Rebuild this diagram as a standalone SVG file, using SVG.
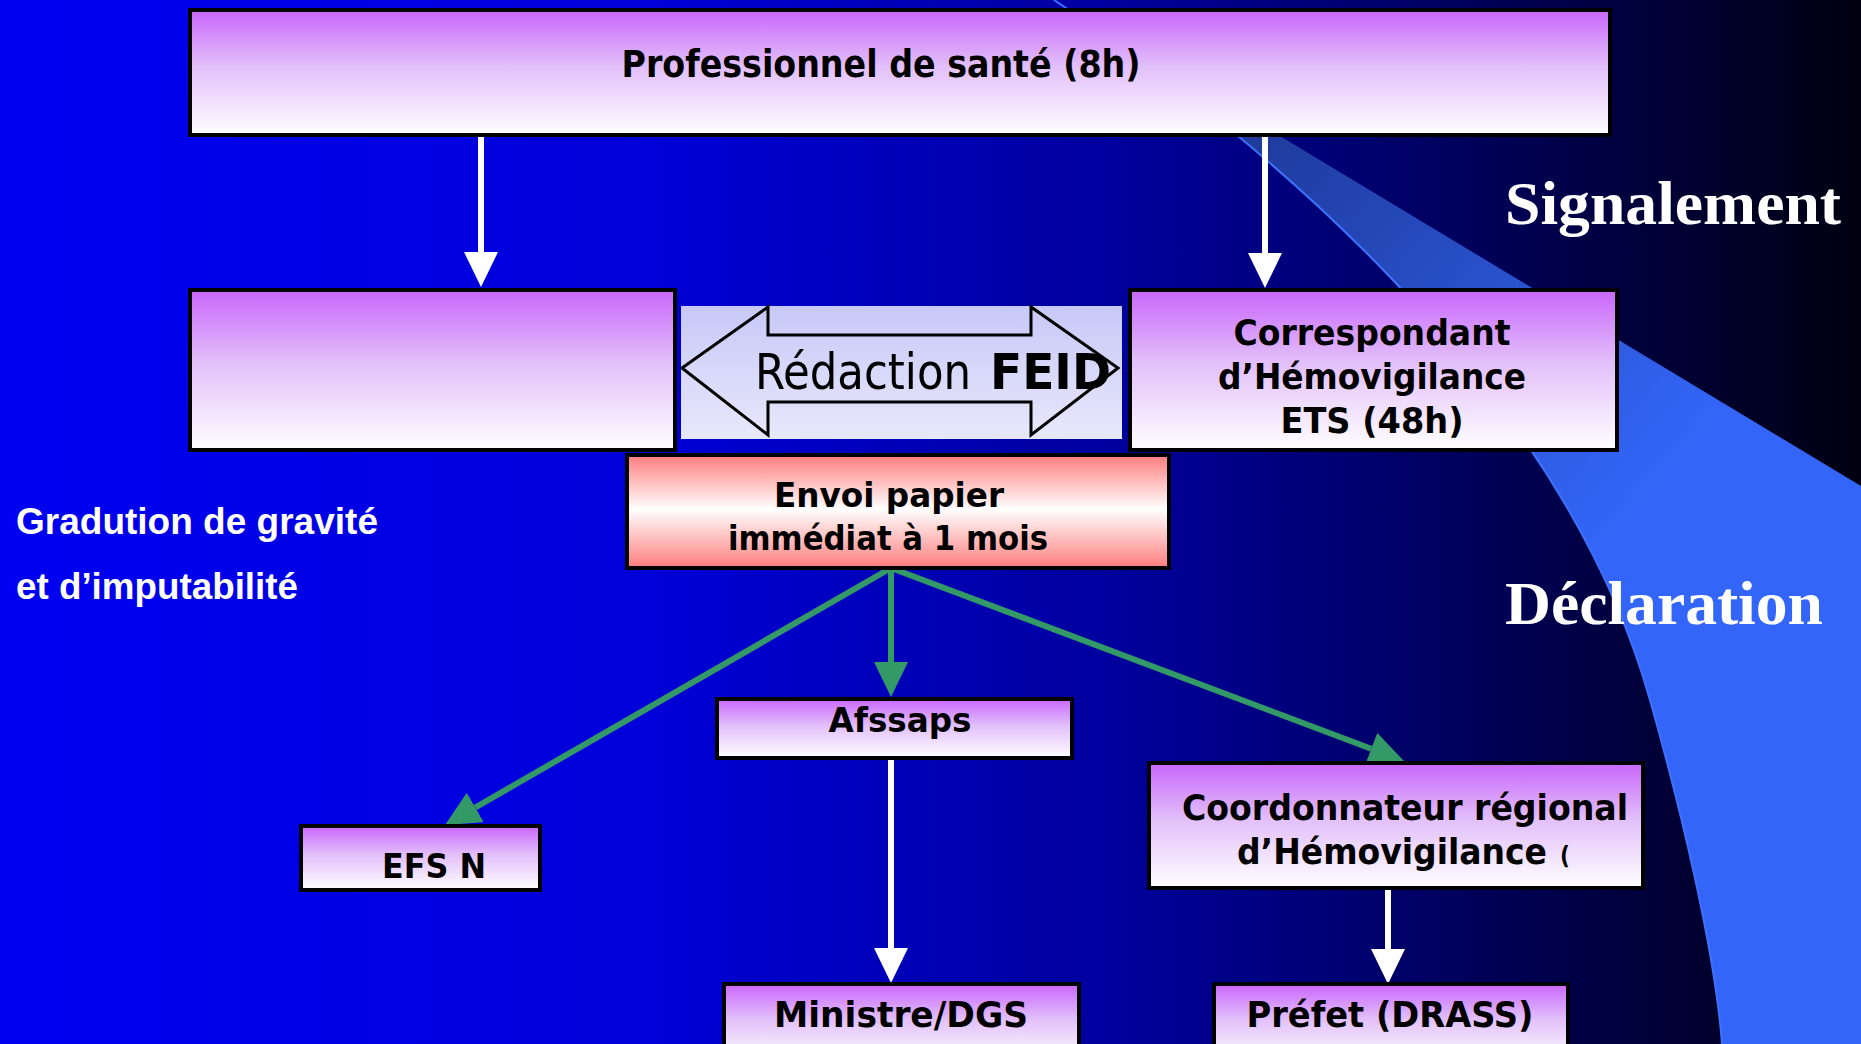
<svg xmlns="http://www.w3.org/2000/svg" width="1861" height="1044" viewBox="0 0 1861 1044">
<defs>
<linearGradient id="bg" x1="0" y1="0" x2="1" y2="0">
<stop offset="0" stop-color="#0000f2"/>
<stop offset="0.35" stop-color="#0000d8"/>
<stop offset="0.6" stop-color="#00009c"/>
<stop offset="0.8" stop-color="#000058"/>
<stop offset="1" stop-color="#000010"/>
</linearGradient>
<linearGradient id="swoosh" gradientUnits="userSpaceOnUse" x1="1200" y1="100" x2="1650" y2="500">
<stop offset="0" stop-color="#1c3692"/>
<stop offset="1" stop-color="#3366f8"/>
</linearGradient>
<linearGradient id="purple" x1="0" y1="0" x2="0" y2="1">
<stop offset="0" stop-color="#c966fb"/>
<stop offset="0.45" stop-color="#e2bffa"/>
<stop offset="1" stop-color="#ffffff"/>
</linearGradient>
<linearGradient id="pink" x1="0" y1="0" x2="0" y2="1">
<stop offset="0" stop-color="#ff7c7c"/>
<stop offset="0.48" stop-color="#ffffff"/>
<stop offset="1" stop-color="#ff7c7c"/>
</linearGradient>
<linearGradient id="lav" x1="0" y1="0" x2="0" y2="1">
<stop offset="0" stop-color="#c8c8f8"/>
<stop offset="1" stop-color="#e8e8fc"/>
</linearGradient>
<marker id="wh" viewBox="0 0 35 34" markerWidth="35" markerHeight="34" refX="0" refY="17" orient="auto" markerUnits="userSpaceOnUse">
<path d="M0,0 L35,17 L0,34 z" fill="#ffffff"/>
</marker>
<marker id="gr" viewBox="0 0 35 34" markerWidth="35" markerHeight="34" refX="0" refY="17" orient="auto" markerUnits="userSpaceOnUse">
<path d="M0,0 L35,17 L0,34 z" fill="#339966"/>
</marker>
<style>
.box{stroke:#000;stroke-width:4}
.pb{fill:url(#purple)}
.t{font-family:"DejaVu Sans Condensed","DejaVu Sans",sans-serif;font-weight:bold;fill:#000;text-anchor:middle}
.tv{font-family:"DejaVu Sans","Verdana",sans-serif;font-weight:bold;fill:#000;text-anchor:middle}
.side{font-family:"Liberation Serif","Times New Roman",serif;font-weight:bold;fill:#fff;font-size:62px}
.grad{font-family:"Liberation Sans",Arial,sans-serif;font-weight:bold;fill:#fff;font-size:36px}
.wa{stroke:#fff;stroke-width:6;fill:none;marker-end:url(#wh)}
.ga{stroke:#339966;stroke-width:6;fill:none;marker-end:url(#gr)}
</style>
</defs>
<rect x="0" y="0" width="1861" height="1044" fill="url(#bg)"/>
<path d="M1054,0 C1250,130 1560,380 1650,700 C1680,806 1715,950 1722,1044 L1861,1044 L1861,486 Z" fill="url(#swoosh)"/>
<path d="M1054,0 C1250,130 1560,380 1650,700 C1680,806 1715,950 1722,1044" fill="none" stroke="#3d72ff" stroke-width="2"/>

<text class="side" x="1505" y="224" textLength="336" lengthAdjust="spacingAndGlyphs">Signalement</text>
<text class="side" x="1505" y="624" textLength="318" lengthAdjust="spacingAndGlyphs">Déclaration</text>
<text class="grad" x="16" y="534" textLength="362" lengthAdjust="spacingAndGlyphs">Gradution de gravité</text>
<text class="grad" x="16" y="599" textLength="282" lengthAdjust="spacingAndGlyphs">et d’imputabilité</text>

<g id="connectors">
<line class="wa" x1="481" y1="137" x2="481" y2="252"/>
<line class="wa" x1="1265" y1="137" x2="1265" y2="253"/>
<line class="wa" x1="891" y1="760" x2="891" y2="948"/>
<line class="wa" x1="1388" y1="890" x2="1388" y2="949"/>
<line class="ga" x1="891" y1="568" x2="475.3" y2="807.5"/>
<line class="ga" x1="891" y1="568" x2="891" y2="662"/>
<line class="ga" x1="891" y1="568" x2="1371.2" y2="748.7"/>
</g>

<g id="professionnel">
<rect class="box pb" x="190" y="10" width="1420" height="125"/>
<text class="t" x="881" y="77" font-size="37" textLength="519" lengthAdjust="spacingAndGlyphs">Professionnel de santé (8h)</text>
</g>
<g id="vide">
<rect class="box pb" x="190" y="290" width="485" height="160"/>
</g>
<g id="correspondant">
<rect class="box pb" x="1130" y="290" width="487" height="160"/>
<text class="t" x="1372" y="344.5" font-size="36" textLength="277" lengthAdjust="spacingAndGlyphs">Correspondant</text>
<text class="t" x="1372" y="388.5" font-size="36" textLength="308" lengthAdjust="spacingAndGlyphs">d’Hémovigilance</text>
<text class="t" x="1372" y="432.5" font-size="36" textLength="183" lengthAdjust="spacingAndGlyphs">ETS (48h)</text>
</g>
<g id="feid">
<rect x="681" y="306" width="441" height="133" fill="url(#lav)"/>
<path d="M682,368 L768,307 L768,335 L1031,335 L1031,307 L1118,368 L1031,435 L1031,402 L768,402 L768,435 Z" fill="none" stroke="#000" stroke-width="3" stroke-linejoin="miter"/>
<text x="755" y="389" font-family="'DejaVu Sans Condensed','DejaVu Sans',sans-serif" font-size="50" fill="#000" textLength="216" lengthAdjust="spacingAndGlyphs">Rédaction</text>
<text x="990" y="389" font-family="'DejaVu Sans','Verdana',sans-serif" font-weight="bold" font-size="50" fill="#000" textLength="121" lengthAdjust="spacingAndGlyphs">FEID</text>
</g>
<g id="envoi">
<rect class="box" x="627" y="455" width="542" height="113" fill="url(#pink)"/>
<text class="tv" x="889" y="507" font-size="34" textLength="230" lengthAdjust="spacingAndGlyphs">Envoi papier</text>
<text class="tv" x="888" y="550" font-size="34" textLength="320" lengthAdjust="spacingAndGlyphs">immédiat à 1 mois</text>
</g>
<g id="afssaps">
<rect class="box pb" x="717" y="699" width="355" height="59"/>
<text class="t" x="900" y="732" font-size="34" textLength="143" lengthAdjust="spacingAndGlyphs">Afssaps</text>
</g>
<g id="efsn">
<rect class="box pb" x="301" y="826" width="239" height="64"/>
<text class="t" x="434" y="878" font-size="34" textLength="104" lengthAdjust="spacingAndGlyphs">EFS N</text>
</g>
<g id="coordonnateur">
<rect class="box pb" x="1149" y="763" width="494" height="125"/>
<text class="t" x="1405" y="820" font-size="36" textLength="446" lengthAdjust="spacingAndGlyphs">Coordonnateur régional</text>
<text class="t" x="1392" y="864" font-size="36" textLength="310" lengthAdjust="spacingAndGlyphs">d’Hémovigilance</text>
<text class="t" x="1565" y="864" font-size="24">(</text>
</g>
<g id="ministre">
<rect class="box pb" x="724" y="984" width="355" height="78"/>
<text class="t" x="901" y="1027" font-size="36" textLength="254" lengthAdjust="spacingAndGlyphs">Ministre/DGS</text>
</g>
<g id="prefet">
<rect class="box pb" x="1214" y="984" width="354" height="78"/>
<text class="t" x="1390" y="1027" font-size="36" textLength="287" lengthAdjust="spacingAndGlyphs">Préfet (DRASS)</text>
</g>
</svg>
